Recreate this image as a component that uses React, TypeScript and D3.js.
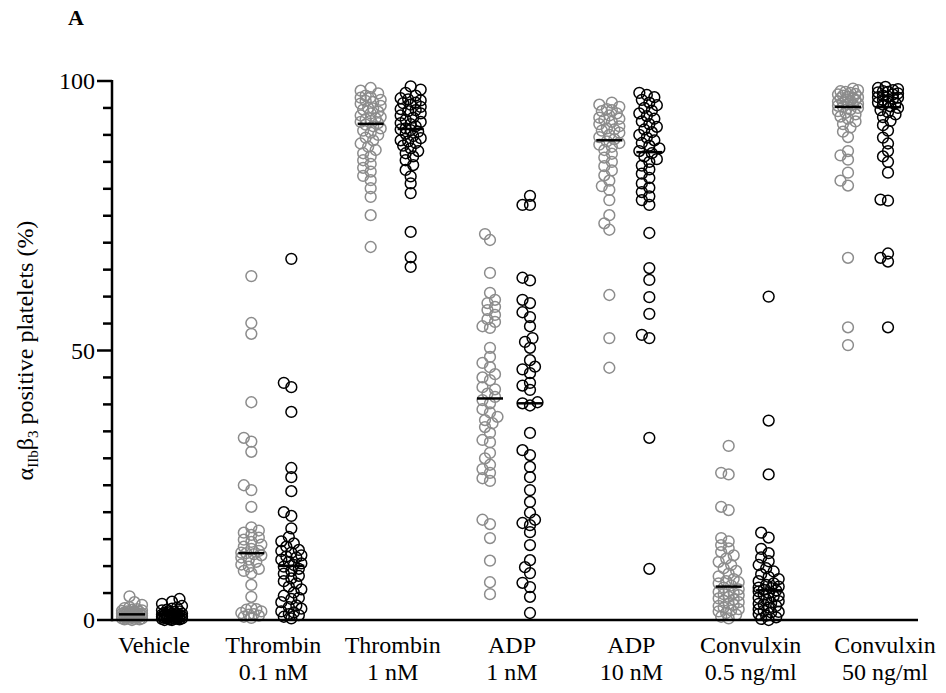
import React from 'react';
import * as d3 from 'd3';

// groups along the x axis (two label lines each)
const groups = ['vehicle', 'thr01', 'thr1', 'adp1', 'adp10', 'cvx05', 'cvx50'];
const labelLine1 = ['Vehicle', 'Thrombin', 'Thrombin', 'ADP', 'ADP', 'Convulxin', 'Convulxin'];
const labelLine2 = ['', '0.1 nM', '1 nM', '1 nM', '10 nM', '0.5 ng/ml', '50 ng/ml'];

const majorTicks = [0, 50, 100];
const minorTicks = d3.range(5, 100, 5).filter((t) => t % 50 !== 0);

// grey series (first of each pair)
const vehicleGrey = [4.4, 3.3, 2.8, 2.4, 2.2, 2.0, 1.9, 1.8, 1.7, 1.6, 1.5, 1.5, 1.4, 1.4, 1.3, 1.3, 1.2, 1.2, 1.2, 1.1, 1.1, 1.0, 1.0, 0.9, 0.9, 0.8, 0.8, 0.7, 0.7, 0.6, 0.6, 0.5, 0.5, 0.4, 0.4, 0.3, 0.3, 0.2, 0.2, 0.1, 0.1, 0.0];
const thr01Grey = [63.8, 55.1, 53.1, 40.4, 33.8, 33.1, 31.2, 25.0, 24.1, 21.0, 17.2, 16.6, 16.2, 15.8, 15.3, 14.9, 14.5, 14.0, 13.6, 13.2, 12.8, 12.5, 12.2, 12.0, 11.6, 11.2, 10.8, 10.3, 9.9, 9.5, 9.1, 8.7, 6.5, 4.3, 2.2, 1.9, 1.6, 1.3, 1.0, 0.8, 0.6, 0.4, 2.0, 1.1, 12.4];
const thr1Grey = [98.7, 98.2, 97.7, 97.3, 96.9, 96.5, 96.1, 95.8, 95.4, 95.0, 94.7, 94.3, 94.0, 93.6, 93.3, 92.9, 92.6, 92.2, 91.9, 91.6, 91.2, 90.8, 90.4, 90.0, 89.5, 89.0, 88.4, 87.8, 87.2, 86.6, 86.0, 85.3, 84.6, 83.9, 83.2, 82.4, 81.6, 80.1, 78.5, 75.1, 69.2, 96.3, 94.9, 93.1, 92.4, 97.0];
const adp1Grey = [71.6, 70.5, 64.4, 60.7, 59.4, 58.8, 58.1, 57.5, 56.6, 55.8, 55.3, 54.5, 54.2, 50.5, 48.8, 47.7, 46.9, 45.6, 45.0, 44.5, 43.2, 42.8, 42.0, 41.4, 40.8, 40.2, 39.1, 38.5, 37.7, 37.1, 36.5, 35.8, 34.7, 33.4, 33.0, 31.0, 30.0, 28.8, 28.0, 27.3, 26.3, 25.8, 18.6, 17.8, 15.2, 11.0, 7.0, 4.8];
const adp10Grey = [96.0, 95.6, 95.2, 94.8, 94.4, 94.0, 93.6, 93.2, 92.8, 92.4, 92.0, 91.6, 91.2, 90.8, 90.4, 90.0, 89.6, 89.2, 88.8, 88.5, 88.2, 87.8, 87.2, 86.5, 85.8, 85.0, 84.2, 83.4, 82.5, 81.5, 80.5, 79.8, 77.9, 75.1, 73.6, 72.4, 60.3, 52.3, 46.8, 94.6, 93.0, 91.0];
const cvx05Grey = [32.3, 27.3, 27.0, 21.0, 20.4, 15.2, 14.6, 13.9, 13.3, 12.6, 12.0, 11.4, 10.8, 10.2, 9.6, 9.1, 8.6, 8.1, 7.6, 7.2, 6.8, 6.4, 6.0, 5.7, 5.3, 5.0, 4.6, 4.3, 4.0, 3.6, 3.3, 3.0, 2.6, 2.3, 2.0, 1.6, 1.3, 1.0, 0.6, 0.3, 7.0, 5.2, 4.8, 3.8, 2.8, 1.8];
const cvx50Grey = [98.6, 98.3, 98.1, 98.0, 97.8, 97.6, 97.5, 97.3, 97.1, 97.0, 96.9, 96.8, 96.6, 96.5, 96.3, 96.2, 96.0, 95.8, 95.7, 95.6, 95.4, 95.2, 95.0, 94.7, 94.4, 94.1, 93.8, 93.4, 93.0, 92.5, 92.0, 91.4, 90.6, 89.6, 87.0, 86.2, 85.4, 83.0, 81.5, 80.6, 67.2, 54.3, 51.0];

// black series (second of each pair)
const vehicleBlack = [3.9, 3.4, 3.0, 2.6, 2.3, 2.1, 1.9, 1.8, 1.6, 1.5, 1.4, 1.3, 1.2, 1.1, 1.0, 1.0, 0.9, 0.9, 0.8, 0.8, 0.7, 0.7, 0.6, 0.6, 0.5, 0.5, 0.4, 0.4, 0.3, 0.3, 0.2, 0.2, 0.1, 0.1, 0.0, 0.0, 1.2, 0.9, 0.6, 0.3];
const thr01Black = [67.0, 44.0, 43.2, 38.6, 28.2, 26.5, 23.9, 20.0, 19.3, 17.0, 15.4, 14.6, 14.2, 13.6, 13.0, 12.8, 12.5, 12.0, 11.8, 11.6, 11.2, 10.8, 10.5, 10.2, 9.9, 9.5, 9.1, 8.6, 8.2, 7.7, 7.2, 6.8, 6.2, 5.7, 5.1, 4.5, 4.1, 3.9, 3.3, 2.7, 2.4, 2.1, 1.6, 1.4, 1.1, 0.9, 0.6, 0.3];
const thr1Black = [99.0, 98.4, 97.8, 97.3, 96.8, 96.6, 96.4, 96.0, 95.9, 95.6, 95.2, 94.8, 94.6, 94.4, 94.0, 93.6, 93.2, 92.8, 92.4, 92.2, 92.0, 91.6, 91.2, 91.0, 90.9, 90.6, 90.2, 89.8, 89.4, 89.0, 88.8, 88.5, 88.0, 87.5, 87.0, 86.6, 86.0, 85.3, 84.4, 83.5, 82.3, 81.0, 79.2, 72.0, 67.3, 65.5];
const adp1Black = [78.7, 77.0, 77.0, 63.5, 63.0, 59.4, 58.8, 57.1, 56.2, 54.5, 52.3, 51.6, 50.5, 48.2, 47.0, 46.5, 45.8, 44.0, 43.5, 42.7, 40.4, 40.2, 39.8, 34.7, 31.5, 30.6, 28.4, 26.5, 24.1, 21.9, 19.9, 18.6, 18.0, 17.6, 16.3, 13.9, 11.1, 9.8, 8.7, 6.9, 6.1, 4.3, 1.3];
const adp10Black = [97.8, 97.4, 97.0, 96.5, 96.0, 95.5, 95.0, 94.5, 94.0, 93.5, 93.0, 92.5, 92.0, 91.5, 91.0, 90.5, 90.0, 89.5, 89.0, 88.5, 88.0, 87.5, 87.0, 86.6, 86.0, 85.5, 85.0, 84.3, 83.6, 82.8, 82.0, 81.0, 80.2, 79.4, 78.6, 77.9, 77.0, 71.8, 65.3, 63.1, 59.9, 56.8, 52.9, 52.3, 33.8, 9.5];
const cvx05Black = [60.0, 37.0, 27.0, 16.2, 15.3, 13.2, 12.4, 11.6, 10.9, 10.2, 9.6, 9.0, 8.5, 8.0, 7.6, 7.2, 6.8, 6.5, 6.2, 6.0, 5.9, 5.6, 5.5, 5.3, 5.0, 4.7, 4.5, 4.4, 4.1, 3.8, 3.5, 3.2, 3.0, 2.9, 2.6, 2.3, 2.0, 1.7, 1.5, 1.4, 1.1, 0.8, 0.5, 0.2, 0.0];
const cvx50Black = [98.9, 98.7, 98.5, 98.3, 98.1, 98.0, 97.9, 97.7, 97.5, 97.3, 97.1, 97.0, 96.9, 96.7, 96.5, 96.2, 96.0, 95.9, 95.6, 95.3, 95.0, 94.6, 94.2, 93.8, 93.3, 92.6, 91.8, 90.8, 89.5, 88.4, 87.0, 86.0, 85.0, 83.0, 78.0, 77.8, 68.0, 67.2, 66.5, 54.3];

const greySeries = [vehicleGrey, thr01Grey, thr1Grey, adp1Grey, adp10Grey, cvx05Grey, cvx50Grey];
const blackSeries = [vehicleBlack, thr01Black, thr1Black, adp1Black, adp10Black, cvx05Black, cvx50Black];

const width = 946;
const height = 693;
const R = 5.4;

const y = d3.scaleLinear().domain([0, 100]).range([620, 81]);
const x = d3.scalePoint<string>().domain(groups).range([152, 868]);
const sub = d3.scalePoint<string>().domain(['grey', 'black']).range([-20, 20]);

// simple swarm: spread overlapping points sideways, around the column centre
function swarm(values: number[], cx: number) {
  const placed: { x: number; y: number; v: number }[] = [];
  const sorted = [...values].sort((a, b) => a - b);
  const step = 2.5;
  const offs = [0];
  for (let k = 1; k * step <= 10; k++) offs.push(-k * step, k * step);
  const minD = 7;
  sorted.forEach((v) => {
    const py = y(v);
    let best = 0;
    let bestD = -1;
    for (const o of offs) {
      let d = Infinity;
      for (const p of placed) {
        const dd = Math.hypot(p.x - (cx + o), p.y - py);
        if (dd < d) d = dd;
      }
      if (d >= minD) {
        best = o;
        bestD = Infinity;
        break;
      }
      if (d > bestD) {
        bestD = d;
        best = o;
      }
    }
    placed.push({ x: cx + best, y: py, v });
  });
  return placed;
}

function App() {
  const font = '"Liberation Serif", Tinos, "Times New Roman", Times, serif';
  const x0 = 112;
  const x1 = 918;

  return (
    <svg width={width} height={height} style={{ position: 'absolute', left: 0, top: 0, background: '#fff' }}>
      <text x={68} y={25} fontFamily={font} fontWeight="bold" fontSize={22}>A</text>

      {/* points */}
      {groups.map((g, i) => {
        const gx = x(g) as number;
        const gPts = swarm(greySeries[i], gx + (sub('grey') as number));
        const bPts = swarm(blackSeries[i], gx + (sub('black') as number));
        const gMed = d3.median(greySeries[i]) as number;
        const bMed = d3.median(blackSeries[i]) as number;
        return (
          <g key={g}>
            {gPts.map((p, j) => (
              <circle key={'g' + j} cx={p.x} cy={p.y} r={R} fill="none" stroke="#8c8c8c" strokeWidth={1.5} />
            ))}
            {bPts.map((p, j) => (
              <circle key={'b' + j} cx={p.x} cy={p.y} r={R} fill="none" stroke="#000" strokeWidth={1.5} />
            ))}
            <line x1={gx + (sub('grey') as number) - 13} x2={gx + (sub('grey') as number) + 13} y1={y(gMed)} y2={y(gMed)} stroke="#000" strokeWidth={2.5} />
            <line x1={gx + (sub('black') as number) - 13} x2={gx + (sub('black') as number) + 13} y1={y(bMed)} y2={y(bMed)} stroke="#000" strokeWidth={2.5} />
          </g>
        );
      })}

      {/* y axis */}
      <line x1={x0} x2={x0} y1={y(100) - 1} y2={y(0) + 1.2} stroke="#000" strokeWidth={2.5} />
      {majorTicks.map((t) => (
        <g key={t}>
          <line x1={x0 - 15} x2={x0} y1={y(t)} y2={y(t)} stroke="#000" strokeWidth={2.5} />
          <text x={95} y={y(t)} dy="0.35em" textAnchor="end" fontFamily={font} fontSize={24}>{t}</text>
        </g>
      ))}
      {minorTicks.map((t) => (
        <line key={t} x1={x0 - 9} x2={x0} y1={y(t)} y2={y(t)} stroke="#000" strokeWidth={2.5} />
      ))}

      {/* x axis */}
      <line x1={x0} x2={x1} y1={y(0)} y2={y(0)} stroke="#000" strokeWidth={2.5} />
      {groups.map((g, i) => {
        // the last label sits a little right of its column in the original
        const lx = (x(g) as number) + (i === groups.length - 1 ? 17 : 2);
        return (
          <g key={g} fontFamily={font} fontSize={24} textAnchor="middle">
            <text x={lx} y={653}>{labelLine1[i]}</text>
            {labelLine2[i] && <text x={lx} y={680}>{labelLine2[i]}</text>}
          </g>
        );
      })}

      <text transform={`translate(33, ${y(50)}) rotate(-90)`} textAnchor="middle" fontFamily={font} fontSize={24}>
        α<tspan fontSize={15} dy={5}>IIb</tspan>
        <tspan dy={-5}>β</tspan>
        <tspan fontSize={15} dy={5}>3</tspan>
        <tspan dy={-5}> positive platelets (%)</tspan>
      </text>
    </svg>
  );
}

export default App;
